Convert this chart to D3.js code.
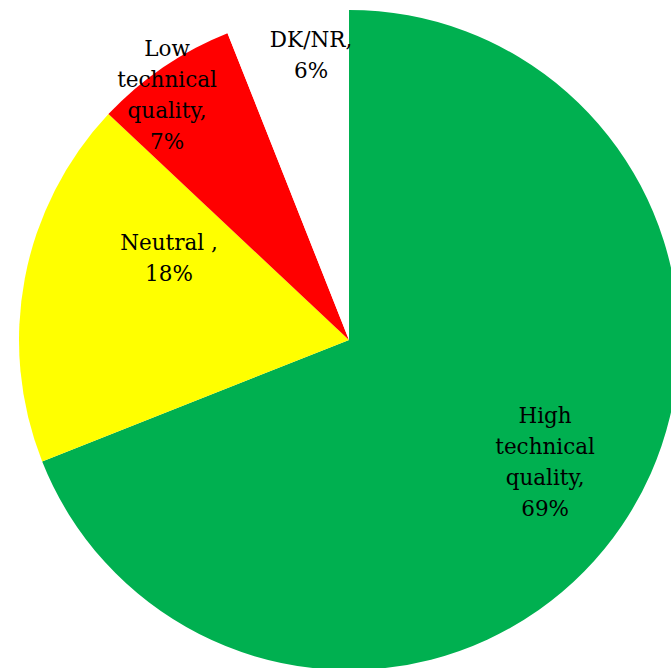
<!DOCTYPE html>
<html><head><meta charset="utf-8">
<script src="https://cdn.jsdelivr.net/npm/d3@7/dist/d3.min.js"></script>
<style>html,body{margin:0;padding:0;background:#fff;overflow:hidden}</style>
</head><body>
<svg id="chart" width="671" height="668"></svg>
<script>
const categories = ["High technical quality", "Neutral ", "Low technical quality", "DK/NR"];
const values = [69, 18, 7, 6];
const labelLines = [
  ["High", "technical", "quality,", "69%"],
  ["Neutral ,", "18%"],
  ["Low", "technical", "quality,", "7%"],
  ["DK/NR,", "6%"]
];
const colors = ["#00B050", "#FFFF00", "#FF0000", "#FFFFFF"];
// label placement: [radius fraction, angle shift in degrees]
const labelPlace = [[0.70, -2.3], [0.60, 13.8], [0.925, -2.4], [0.87, 3.2]];

const W = 671, H = 668, cx = 349, cy = 340, R = 330;
const svg = d3.select("#chart");
const g = svg.append("g").attr("transform", `translate(${cx},${cy})`);
const data = categories.map((c, i) => ({c, v: values[i], i}));
const pie = d3.pie().sort(null).value(d => d.v);
const arcs = pie(data);
const arc = d3.arc().innerRadius(0).outerRadius(R);
const color = d3.scaleOrdinal().domain(categories).range(colors);

g.selectAll("path").data(arcs).join("path")
  .attr("d", arc)
  .attr("fill", d => color(d.data.c));

const lh = 31;
arcs.forEach((a, i) => {
  const [rf, shift] = labelPlace[i];
  const ang = (a.startAngle + a.endAngle) / 2 + shift * Math.PI / 180;
  const r = R * rf;
  const x = r * Math.sin(ang), y = -r * Math.cos(ang);
  const lines = labelLines[i];
  const t = g.append("text")
    .attr("text-anchor", "middle")
    .attr("font-family", "'DejaVu Serif', serif")
    .attr("font-size", 21.5)
    .attr("fill", "#000");
  lines.forEach((ln, k) => {
    t.append("tspan").attr("x", x)
      .attr("y", y + (k - (lines.length - 1) / 2) * lh)
      .attr("dy", "0.35em").text(ln);
  });
});
</script>
</body></html>
